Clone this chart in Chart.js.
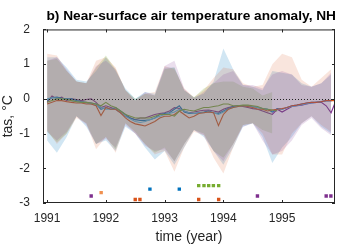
<!DOCTYPE html>
<html>
<head>
<meta charset="utf-8">
<script src="https://cdn.jsdelivr.net/npm/chart.js@4"></script>
<style>
  html, body { margin: 0; padding: 0; background: #fff; }
  #wrap { width: 339px; height: 248px; }
</style>
</head>
<body>
<div id="wrap"><canvas id="chart" width="339" height="248"></canvas></div>
<script>
// monthly time axis, Jan 1991 .. Dec 1995
const nMonths = 60;
const months = Array.from({length: nMonths}, (_, i) => 1991 + i / 12);
// spread bands are read every second month
const bandMonths = months.filter((_, i) => i % 2 === 0);
const yearTicks = [1991, 1992, 1993, 1994, 1995];
const tempTicks = [-3, -2, -1, 0, 1, 2];

// ensemble-mean anomaly lines (°C)
const blueLine = [-0.05,0.03,0.05,0.02,0.0,0.0,-0.05,-0.08,-0.1,-0.12,-0.15,-0.3,-0.25,-0.3,-0.25,-0.35,-0.45,-0.55,-0.6,-0.62,-0.62,-0.6,-0.55,-0.45,-0.42,-0.4,-0.3,-0.2,-0.38,-0.42,-0.42,-0.4,-0.38,-0.35,-0.4,-0.42,-0.35,-0.28,-0.22,-0.2,-0.2,-0.2,-0.22,-0.25,-0.28,-0.3,-0.38,-0.28,-0.3,-0.25,-0.2,-0.18,-0.15,-0.12,-0.1,-0.1,-0.08,-0.05,-0.05,-0.03];
const orangeLine = [-0.15,-0.1,-0.05,-0.05,-0.08,-0.1,-0.12,-0.12,-0.15,-0.15,-0.2,-0.48,-0.25,-0.3,-0.3,-0.4,-0.55,-0.65,-0.72,-0.75,-0.78,-0.72,-0.65,-0.55,-0.5,-0.5,-0.45,-0.35,-0.45,-0.55,-0.5,-0.42,-0.4,-0.38,-0.4,-0.77,-0.45,-0.3,-0.25,-0.22,-0.2,-0.22,-0.25,-0.3,-0.3,-0.35,-0.32,-0.3,-0.28,-0.25,-0.2,-0.18,-0.15,-0.12,-0.1,-0.1,-0.08,-0.05,-0.05,-0.05];
// green run stops after Dec 1994
const greenLine = [-0.1,-0.05,0.0,0.0,-0.02,-0.05,-0.08,-0.1,-0.1,-0.12,-0.15,-0.2,-0.1,-0.2,-0.25,-0.35,-0.45,-0.5,-0.55,-0.55,-0.55,-0.55,-0.5,-0.45,-0.45,-0.45,-0.5,-0.35,-0.3,-0.33,-0.35,-0.3,-0.25,-0.25,-0.22,-0.2,-0.15,-0.15,-0.2,-0.2,-0.18,-0.18,-0.2,-0.22,-0.28,-0.3,-0.32,-0.35];
const purpleLine = [-0.1,0.08,0.0,0.05,-0.05,0.0,-0.02,-0.05,-0.02,0.0,-0.1,-0.25,-0.2,-0.25,-0.3,-0.4,-0.5,-0.55,-0.6,-0.55,-0.55,-0.5,-0.45,-0.42,-0.4,-0.35,-0.25,-0.28,-0.35,-0.4,-0.38,-0.35,-0.33,-0.32,-0.35,-0.38,-0.3,-0.25,-0.22,-0.2,-0.22,-0.25,-0.28,-0.3,-0.35,-0.4,-0.45,-0.3,-0.38,-0.3,-0.22,-0.2,-0.18,-0.15,-0.12,-0.1,-0.1,-0.2,-0.4,-0.05];
const skyLine = [0.0,0.03,0.02,0.0,-0.02,-0.05,-0.08,-0.1,-0.12,-0.15,-0.18,-0.25,-0.3,-0.3,-0.3,-0.4,-0.5,-0.58,-0.65,-0.68,-0.65,-0.6,-0.55,-0.5,-0.45,-0.42,-0.38,-0.3,-0.35,-0.4,-0.42,-0.4,-0.4,-0.38,-0.4,-0.45,-0.38,-0.3,-0.25,-0.22,-0.2,-0.2,-0.22,-0.25,-0.28,-0.3,-0.35,-0.3,-0.3,-0.25,-0.22,-0.2,-0.17,-0.14,-0.12,-0.1,-0.08,-0.06,-0.05,-0.03];

// ensemble spread (upper / lower), every second month
const blueHigh = [1.2,1.2,0.9,0.55,0.5,0.8,1.2,0.8,0.3,0.0,0.2,0.15,0.9,0.9,0.25,0.05,0.15,0.5,1.45,0.85,0.4,0.35,0.25,0.8,0.75,0.7,0.45,0.35,0.45,0.7];
const blueLow = [-1.2,-1.55,-1.1,-0.5,-0.8,-1.3,-1.2,-1.5,-0.8,-1.0,-1.4,-1.75,-1.5,-1.9,-1.4,-0.9,-1.1,-1.5,-1.9,-1.4,-0.8,-0.7,-1.1,-1.85,-1.4,-1.1,-0.7,-0.5,-0.8,-1.0];
const orangeHigh = [1.3,1.25,0.8,0.5,0.45,1.1,1.2,0.9,0.25,-0.05,0.15,0.2,0.95,0.85,0.3,0.05,0.25,0.6,0.9,0.85,0.45,0.35,0.4,1.0,1.3,1.2,0.55,0.35,0.6,0.85];
const orangeLow = [-0.9,-1.3,-1.0,-0.55,-0.7,-1.45,-1.1,-1.55,-0.7,-1.0,-1.3,-1.6,-1.5,-2.1,-1.4,-0.95,-1.05,-1.7,-2.15,-1.4,-0.75,-0.7,-1.0,-1.6,-1.6,-1.0,-0.7,-0.5,-0.75,-0.95];
const purpleHigh = [1.1,1.2,0.85,0.5,0.45,0.95,1.1,0.85,0.25,-0.05,0.2,0.1,0.95,1.1,0.3,0.0,0.2,0.45,0.7,0.8,0.4,0.4,0.3,0.7,0.8,0.7,0.4,0.35,0.45,0.75];
const purpleLow = [-0.95,-1.2,-0.95,-0.5,-0.75,-1.3,-1.15,-1.4,-0.75,-1.0,-1.35,-1.5,-1.45,-1.8,-1.3,-0.9,-1.05,-1.5,-1.8,-1.3,-0.8,-0.7,-1.2,-1.6,-1.5,-1.2,-0.75,-0.55,-0.85,-1.05];
const greenHigh = [1.1,1.15,0.8,0.5,0.45,0.9,1.25,0.85,0.25,0.0,0.15,0.1,0.85,0.9,0.25,0.05,0.3,0.45,0.5,0.5,0.35,0.3,0.1,0.2];
const greenLow = [-0.95,-1.25,-1.0,-0.5,-0.7,-1.3,-1.1,-1.45,-0.7,-0.95,-1.3,-1.55,-1.4,-1.8,-1.3,-0.9,-1.0,-1.5,-1.7,-1.3,-0.75,-0.7,-0.9,-1.0];

// significance markers
const greenMarkX = [1993.58, 1993.67, 1993.75, 1993.83, 1993.92];
const blueMarkX = [1992.75, 1993.25];
const lightOrangeMarkX = [1991.92];
const purpleMarkX = [1991.75, 1994.58, 1995.75, 1995.83];
const orangeMarkX = [1992.5, 1992.58, 1993.58, 1993.92];
const markLevels = {green: -2.5, blue: -2.6, lightOrange: -2.7, purple: -2.8, orange: -2.9};

const C = {
    blue: '#0072BD', orange: '#D95319', green: '#77AC30',
    purple: '#7E2F8E', sky: '#4DBEEE', lightOrange: '#F0904F', axis: '#262626'
};

function pts(xs, ys) {
    return ys.map((y, i) => ({x: xs[i], y: y}));
}
function rgba(hex, a) {
    const n = parseInt(hex.slice(1), 16);
    return `rgba(${n >> 16},${(n >> 8) & 255},${n & 255},${a})`;
}

const datasets = [];
function addBand(hi, lo, color, alpha) {
    const low = {data: pts(bandMonths, lo), borderWidth: 0, pointRadius: 0, fill: false};
    const high = {data: pts(bandMonths, hi), borderWidth: 0, pointRadius: 0,
        backgroundColor: rgba(color, alpha), fill: {target: datasets.length + 1}};
    datasets.push(high, low);
}
addBand(purpleHigh, purpleLow, C.purple, 0.16);
addBand(orangeHigh, orangeLow, C.orange, 0.15);
addBand(blueHigh, blueLow, C.blue, 0.18);
addBand(greenHigh, greenLow, C.green, 0.22);

function addLine(vals, color) {
    datasets.push({data: pts(months, vals), borderColor: color, borderWidth: 1.1,
        pointRadius: 0, fill: false});
}
addLine(greenLine, C.green);
addLine(orangeLine, C.orange);
addLine(skyLine, C.sky);
addLine(blueLine, C.blue);
addLine(purpleLine, C.purple);

function addMarks(xs, level, color) {
    datasets.push({type: 'scatter', data: xs.map(x => ({x: x, y: level})),
        pointStyle: 'rect', pointRadius: 2.4, backgroundColor: color,
        borderWidth: 0, showLine: false});
}
addMarks(greenMarkX, markLevels.green, C.green);
addMarks(blueMarkX, markLevels.blue, C.blue);
addMarks(lightOrangeMarkX, markLevels.lightOrange, C.lightOrange);
addMarks(purpleMarkX, markLevels.purple, C.purple);
addMarks(orangeMarkX, markLevels.orange, C.orange);

// box, inward ticks and dotted zero line like the original figure
const boxPlugin = {
    id: 'box',
    afterDatasetsDraw(chart) {
        const {ctx, chartArea: a, scales: {x, y}} = chart;
        ctx.save();
        ctx.strokeStyle = '#222';
        ctx.lineWidth = 1;
        ctx.setLineDash([1, 2]);
        const y0 = Math.round(y.getPixelForValue(0)) + 0.5;
        ctx.beginPath(); ctx.moveTo(a.left, y0); ctx.lineTo(a.right, y0); ctx.stroke();
        ctx.setLineDash([]);
        ctx.strokeStyle = C.axis;
        ctx.strokeRect(a.left + 0.5, a.top + 0.5, a.right - a.left - 1, a.bottom - a.top - 1);
        ctx.beginPath();
        yearTicks.forEach(v => {
            const px = Math.round(x.getPixelForValue(v)) + 0.5;
            ctx.moveTo(px, a.bottom); ctx.lineTo(px, a.bottom - 3);
            ctx.moveTo(px, a.top); ctx.lineTo(px, a.top + 3);
        });
        tempTicks.forEach(v => {
            const py = Math.round(y.getPixelForValue(v)) + 0.5;
            ctx.moveTo(a.left, py); ctx.lineTo(a.left + 3, py);
            ctx.moveTo(a.right, py); ctx.lineTo(a.right - 3, py);
        });
        ctx.stroke();
        ctx.restore();
    }
};

new Chart(document.getElementById('chart').getContext('2d'), {
    type: 'line',
    data: {datasets: datasets},
    plugins: [boxPlugin],
    options: {
        responsive: false,
        animation: false,
        layout: {padding: {left: 0, right: 3, top: 0, bottom: 0}},
        plugins: {
            legend: {display: false},
            tooltip: {enabled: false},
            filler: {propagate: false},
            title: {
                display: true,
                align: 'end',
                text: 'b) Near-surface air temperature anomaly, NH',
                color: '#000',
                font: {family: 'Liberation Sans, Arial', size: 13.7, weight: 'bold'},
                padding: {top: 8, bottom: 5}
            }
        },
        scales: {
            x: {
                type: 'linear',
                min: 1990.93,
                max: 1995.9,
                afterBuildTicks: s => { s.ticks = yearTicks.map(v => ({value: v})); },
                afterFit: s => { s.height = 45; },
                grid: {display: false},
                border: {display: false},
                ticks: {color: C.axis, padding: 0, font: {family: 'Liberation Sans, Arial', size: 12},
                    callback: v => String(v)},
                title: {display: true, text: 'time (year)', color: C.axis,
                    font: {family: 'Liberation Sans, Arial', size: 14}, padding: {top: 0, bottom: 2}}
            },
            y: {
                min: -3,
                max: 2,
                afterBuildTicks: s => { s.ticks = tempTicks.map(v => ({value: v})); },
                afterFit: s => { s.width = 43; },
                grid: {display: false},
                border: {display: false},
                ticks: {color: C.axis, padding: 5, font: {family: 'Liberation Sans, Arial', size: 12},
                    callback: v => String(v)},
                title: {display: true, text: 'tas, °C', color: C.axis,
                    font: {family: 'Liberation Sans, Arial', size: 14}, padding: {top: 0, bottom: 4}}
            }
        }
    }
});
</script>
</body>
</html>
